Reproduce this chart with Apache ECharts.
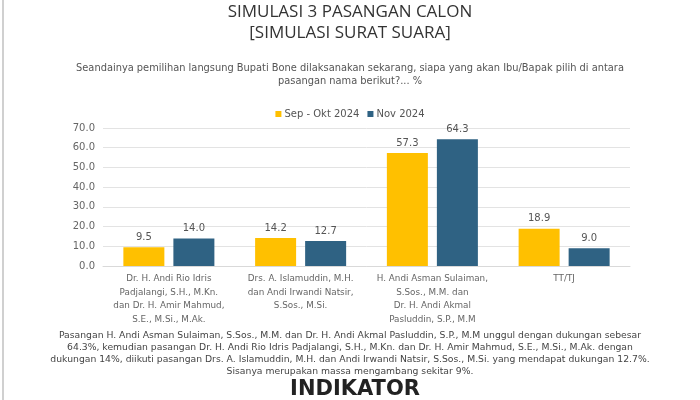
<!DOCTYPE html>
<html>
<head>
<meta charset="utf-8">
<style>
  html, body { margin: 0; padding: 0; background: #fff; }
  #chart { width: 700px; height: 400px; }
</style>
<script src="https://cdn.jsdelivr.net/npm/echarts@6/dist/echarts.min.js"></script>
</head>
<body>
<div id="chart"></div>
<script>
const categories = [
  'Dr. H. Andi Rio Idris\nPadjalangi, S.H., M.Kn.\ndan Dr. H. Amir Mahmud,\nS.E., M.Si., M.Ak.',
  'Drs. A. Islamuddin, M.H.\ndan Andi Irwandi Natsir,\nS.Sos., M.Si.',
  'H. Andi Asman Sulaiman,\nS.Sos., M.M. dan\nDr. H. Andi Akmal\nPasluddin, S.P., M.M',
  'TT/TJ'
]
const sepOkt2024 = [9.5, 14.2, 57.3, 18.9]
const nov2024 = [14.0, 12.7, 64.3, 9.0]
const seriesNames = ['Sep - Okt 2024', 'Nov 2024']

const footerLines = [
  'Pasangan H. Andi Asman Sulaiman, S.Sos., M.M. dan Dr. H. Andi Akmal Pasluddin, S.P., M.M unggul dengan dukungan sebesar',
  '64.3%, kemudian pasangan Dr. H. Andi Rio Idris Padjalangi, S.H., M.Kn. dan Dr. H. Amir Mahmud, S.E., M.Si., M.Ak. dengan',
  'dukungan 14%, diikuti pasangan Drs. A. Islamuddin, M.H. dan Andi Irwandi Natsir, S.Sos., M.Si. yang mendapat dukungan 12.7%.',
  'Sisanya merupakan massa mengambang sekitar 9%.'
]

const font = '"DejaVu Sans", sans-serif'
const titleFont = '"Open Sans", "DejaVu Sans", sans-serif'
const chart = echarts.init(document.getElementById('chart'))

chart.setOption({
  animation: false,
  textStyle: { fontFamily: font },
  title: [{
    text: 'SIMULASI 3 PASANGAN CALON\n[SIMULASI SURAT SUARA]',
    left: 'center',
    top: -3,
    textStyle: { fontSize: 17, fontWeight: 'normal', color: '#333', lineHeight: 21, fontFamily: titleFont }
  }, {
    text: 'Seandainya pemilihan langsung Bupati Bone dilaksanakan sekarang, siapa yang akan Ibu/Bapak pilih di antara\npasangan nama berikut?... %',
    left: 'center',
    top: 57,
    textStyle: { fontSize: 9.85, fontWeight: 'normal', color: '#555', lineHeight: 13, fontFamily: font }
  }],
  legend: {
    data: seriesNames,
    top: 104,
    left: 'center',
    itemWidth: 6,
    itemHeight: 6,
    itemGap: 8,
    icon: 'rect',
    textStyle: { fontSize: 10, color: '#555', padding: [0, 0, 0, -2] }
  },
  grid: {
    left: 103,
    right: 70,
    top: 128,
    bottom: 134
  },
  xAxis: {
    type: 'category',
    data: categories,
    axisTick: { show: false },
    axisLine: { lineStyle: { color: '#d9d9d9' } },
    axisLabel: { color: '#666', fontSize: 8.8, lineHeight: 13.5, interval: 0, margin: 6 }
  },
  yAxis: {
    type: 'value',
    min: 0,
    max: 70,
    interval: 10,
    axisLabel: { color: '#666', fontSize: 10, formatter: v => v.toFixed(1), margin: 8 },
    splitLine: { lineStyle: { color: '#e3e3e3' } }
  },
  series: [{
    name: seriesNames[0],
    type: 'bar',
    data: sepOkt2024,
    barWidth: 41,
    barGap: '22%',
    itemStyle: { color: '#FFC000' },
    label: { show: true, position: 'top', color: '#555', fontSize: 10, formatter: p => p.value.toFixed(1) }
  }, {
    name: seriesNames[1],
    type: 'bar',
    data: nov2024,
    barWidth: 41,
    itemStyle: { color: '#2F6283' },
    label: { show: true, position: 'top', color: '#555', fontSize: 10, formatter: p => p.value.toFixed(1) }
  }],
  graphic: [{
    type: 'rect',
    shape: { x: 2, y: 0, width: 2, height: 400 },
    style: { fill: '#d0d0d0' }
  }, {
    type: 'text',
    x: 350,
    y: 329,
    style: {
      text: footerLines.join('\n'),
      fontSize: 9.25,
      lineHeight: 12.3,
      fill: '#444',
      align: 'center',
      verticalAlign: 'top',
      fontFamily: font
    }
  }, {
    type: 'text',
    x: 355,
    y: 379,
    style: {
      text: 'INDIKATOR',
      fontSize: 21,
      fontWeight: 'bold',
      fill: '#222',
      align: 'center',
      verticalAlign: 'top',
      fontFamily: '"DejaVu Sans", sans-serif'
    }
  }]
})
</script>
</body>
</html>
